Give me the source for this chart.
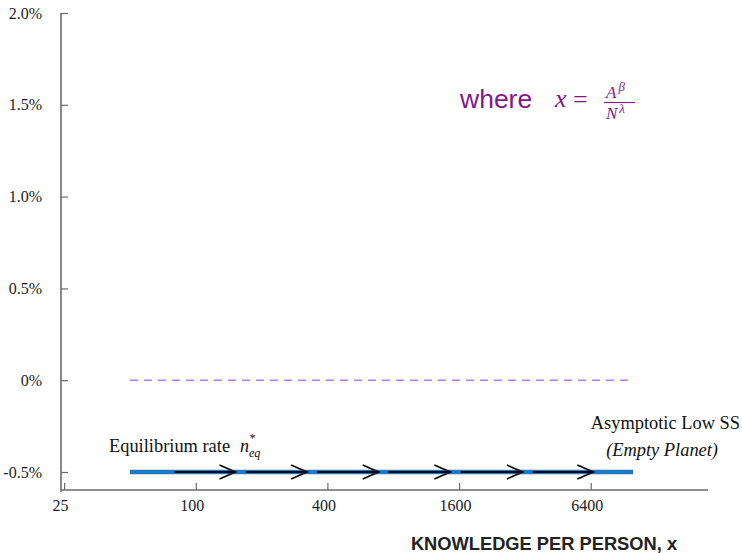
<!DOCTYPE html>
<html>
<head>
<meta charset="utf-8">
<script src="https://cdn.jsdelivr.net/npm/d3@7"></script>
<style>
  body { margin: 0; background: #fff; }
  svg { display: block; }
</style>
</head>
<body>
<div id="chart"></div>
<script>
// data
const xTicks = [25, 100, 400, 1600, 6400];
const yTicks = [-0.5, 0, 0.5, 1.0, 1.5, 2.0];
const lineX = [50, 10000];          // span of the equilibrium line and the zero line
const eqRate = -0.5;                // asymptotic low steady state growth, %
const zeroRate = 0;
const arrowFrom = [80, 170, 360, 760, 1630, 3480];
const arrowTo = [152, 323, 686, 1460, 3130, 6580];

const dims = { width: 742, height: 553 };
const margin = { top: 13, right: 34, bottom: 63, left: 61 };

const svg = d3
  .select("#chart")
  .append("svg")
  .attr("width", dims.width)
  .attr("height", dims.height);

// scales
const xScale = d3
  .scaleLog()
  .base(4)
  .domain([24.2, 22000])
  .range([margin.left, dims.width - margin.right]);
const yScale = d3
  .scaleLinear()
  .domain([-0.598, 2.0])
  .range([dims.height - margin.bottom, margin.top]);

const axisColor = "#6b6b6b";
const serif = "'Liberation Serif', 'DejaVu Serif', serif";
const sans = "'Liberation Sans', Arial, sans-serif";

// axes (ticks point inward)
const yAxis = d3
  .axisLeft(yScale)
  .tickValues(yTicks)
  .tickSize(-7)
  .tickPadding(19)
  .tickFormat(d => (d === 0 ? "0%" : (d < 0 ? "-" : "") + Math.abs(d).toFixed(1) + "%"));
const xAxis = d3
  .axisBottom(xScale)
  .tickValues(xTicks)
  .tickSize(-7)
  .tickPadding(10)
  .tickFormat(d3.format("d"));

const yAxisGroup = svg
  .append("g")
  .attr("transform", `translate(${margin.left},0)`)
  .call(yAxis);
const xAxisGroup = svg
  .append("g")
  .attr("transform", `translate(0,${dims.height - margin.bottom})`)
  .call(xAxis);

[yAxisGroup, xAxisGroup].forEach(g => {
  g.select(".domain").attr("stroke", axisColor).attr("stroke-width", 1.6);
  g.selectAll(".tick line").attr("stroke", axisColor).attr("stroke-width", 1.2);
  g.selectAll(".tick text")
    .attr("fill", "#222")
    .style("font-family", serif)
    .style("font-size", "16px");
});
xAxisGroup.selectAll(".tick text").attr("dx", -4);
// y axis runs a bit below the x axis line like in the original
yAxisGroup.select(".domain").attr("d", `M0,${margin.top}V${dims.height - margin.bottom + 2}`);
xAxisGroup.select(".domain").attr("d", `M${margin.left},0H${dims.width - margin.right}`);

// zero line
svg
  .append("line")
  .attr("x1", xScale(lineX[0]))
  .attr("x2", xScale(lineX[1]))
  .attr("y1", yScale(zeroRate))
  .attr("y2", yScale(zeroRate))
  .attr("stroke", "#b07cff")
  .attr("stroke-width", 1.6)
  .attr("stroke-dasharray", "8,6");

// equilibrium line
svg
  .append("line")
  .attr("x1", xScale(lineX[0]))
  .attr("x2", xScale(lineX[1]))
  .attr("y1", yScale(eqRate))
  .attr("y2", yScale(eqRate))
  .attr("stroke", "#1f78c4")
  .attr("stroke-width", 4.5);

// arrows along the line
const arrows = svg
  .append("g")
  .selectAll("g")
  .data(arrowFrom.map((d, i) => ({ from: d, to: arrowTo[i] })))
  .enter()
  .append("g");

arrows
  .append("line")
  .attr("x1", d => xScale(d.from))
  .attr("x2", d => xScale(d.to))
  .attr("y1", yScale(eqRate))
  .attr("y2", yScale(eqRate))
  .attr("stroke", "#000")
  .attr("stroke-width", 2);

arrows
  .append("path")
  .attr("d", d => {
    const x = xScale(d.to);
    const y = yScale(eqRate);
    return `M${x - 16},${y - 7}L${x},${y}L${x - 16},${y + 7}`;
  })
  .attr("fill", "none")
  .attr("stroke", "#000")
  .attr("stroke-width", 1.6);

// annotations
svg
  .append("text")
  .attr("x", 109)
  .attr("y", 452)
  .style("font-family", serif)
  .style("font-size", "18.4px")
  .attr("fill", "#111")
  .text("Equilibrium rate");

const nEq = svg
  .append("text")
  .attr("x", 240)
  .attr("y", 452)
  .style("font-family", serif)
  .style("font-size", "18px")
  .style("font-style", "italic")
  .attr("fill", "#111");
nEq.append("tspan").text("n");
nEq
  .append("tspan")
  .attr("dy", -10)
  .style("font-size", "12px")
  .text("*");
nEq
  .append("tspan")
  .attr("dx", -6)
  .attr("dy", 15)
  .style("font-size", "12px")
  .text("eq");

svg
  .append("text")
  .attr("x", 740)
  .attr("y", 429)
  .attr("text-anchor", "end")
  .style("font-family", serif)
  .style("font-size", "18.4px")
  .attr("fill", "#111")
  .text("Asymptotic Low SS");
svg
  .append("text")
  .attr("x", 718)
  .attr("y", 456)
  .attr("text-anchor", "end")
  .style("font-family", serif)
  .style("font-size", "18.4px")
  .style("font-style", "italic")
  .attr("fill", "#111")
  .text("(Empty Planet)");

// "where x = A^beta / N^lambda"
const purple = "#84168a";
svg
  .append("text")
  .attr("x", 460)
  .attr("y", 108)
  .style("font-family", sans)
  .style("font-size", "26.5px")
  .attr("fill", purple)
  .text("where");
svg
  .append("text")
  .attr("x", 555)
  .attr("y", 107)
  .style("font-family", serif)
  .style("font-size", "26px")
  .style("font-style", "italic")
  .attr("fill", purple)
  .text("x");
svg
  .append("text")
  .attr("x", 573)
  .attr("y", 108)
  .style("font-family", serif)
  .style("font-size", "26px")
  .attr("fill", purple)
  .text("=");
const num = svg
  .append("text")
  .attr("x", 606)
  .attr("y", 98)
  .style("font-family", serif)
  .style("font-size", "17px")
  .style("font-style", "italic")
  .attr("fill", purple);
num.append("tspan").text("A");
num
  .append("tspan")
  .attr("dx", 2)
  .attr("dy", -7)
  .style("font-size", "13px")
  .text("β");
svg
  .append("line")
  .attr("x1", 604)
  .attr("x2", 635)
  .attr("y1", 102.5)
  .attr("y2", 102.5)
  .attr("stroke", purple)
  .attr("stroke-width", 1.1);
const den = svg
  .append("text")
  .attr("x", 606)
  .attr("y", 119)
  .style("font-family", serif)
  .style("font-size", "17px")
  .style("font-style", "italic")
  .attr("fill", purple);
den.append("tspan").text("N");
den
  .append("tspan")
  .attr("dx", 2)
  .attr("dy", -6)
  .style("font-size", "13px")
  .text("λ");

// x axis title
svg
  .append("text")
  .attr("x", 544)
  .attr("y", 550)
  .attr("text-anchor", "middle")
  .style("font-family", sans)
  .style("font-size", "18.3px")
  .style("font-weight", "bold")
  .attr("fill", "#222")
  .text("KNOWLEDGE PER PERSON, x");
</script>
</body>
</html>
